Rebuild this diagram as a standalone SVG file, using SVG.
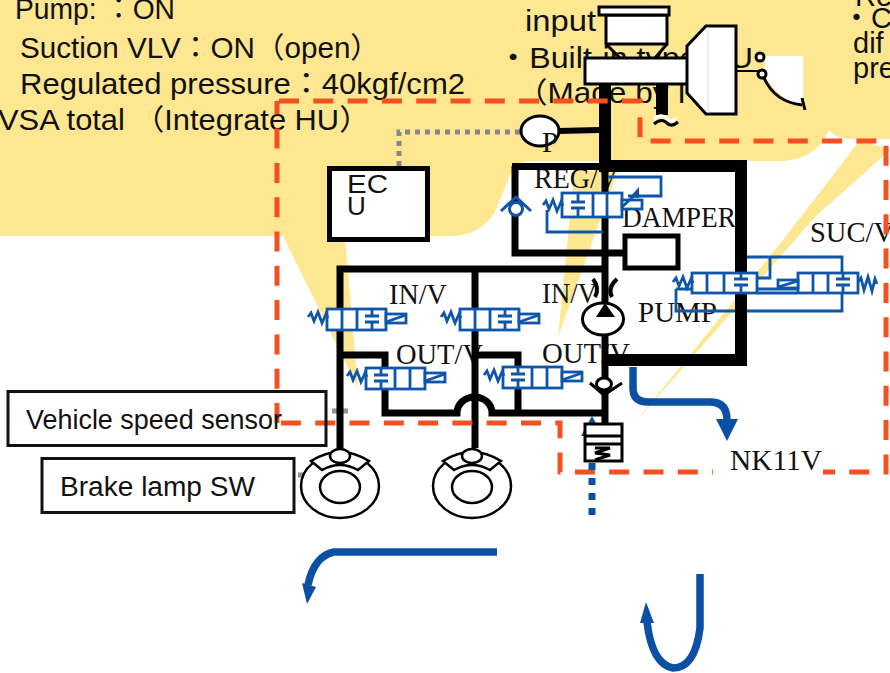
<svg xmlns="http://www.w3.org/2000/svg" width="890" height="673" viewBox="0 0 890 673">
<style>
.t{font-family:"Liberation Sans","Noto Sans CJK JP",sans-serif;font-size:29px;fill:#111}
.s{font-family:"Liberation Serif","Noto Sans CJK JP",serif;font-size:29px;fill:#111}
.b{font-family:"Liberation Sans","Noto Sans CJK JP",sans-serif;font-size:27px;fill:#111}
.blk{fill:none;stroke:#000;stroke-linejoin:miter}
.wb{fill:#fff;stroke:#000;stroke-width:3}
.w2{fill:#fff;stroke:#000;stroke-width:2.500}
.bl{fill:none;stroke:#0f55a8;stroke-width:2.800}
.bf{fill:none;stroke:#0b50a4;stroke-width:7.500}
.ah{fill:#0b50a4}
.vb{fill:#fff;stroke:#0f55a8;stroke-width:2.800}
</style>
<defs>
<g id="spring"><path class="bl" d="M-19,8 L-16,4 L-13,12 L-9,3 L-5,14 L-1,5 L1,9"/></g>
<g id="block"><path class="bl" d="M-7,7 H7 M-7,13 H7 M0,0 V7 M0,13 V21"/></g>
<g id="coil"><rect class="vb" x="0" y="5" width="20" height="9"/><path class="bl" d="M0,13 L20,6"/></g>
<g id="valveR"><rect class="vb" x="0" y="0" width="59" height="21"/><path class="bl" d="M15,0 V21 M30,0 V21"/><use href="#block" x="45"/><use href="#spring"/><use href="#coil" x="59"/></g>
<g id="valveL"><rect class="vb" x="0" y="0" width="59" height="21"/><path class="bl" d="M29,0 V21 M44,0 V21"/><use href="#block" x="15"/><use href="#spring"/><use href="#coil" x="59"/></g>
<g id="wheel">
<ellipse class="w2" cx="0" cy="32" rx="39" ry="32"/><ellipse class="w2" cx="0" cy="33" rx="20" ry="16"/>
<path class="w2" d="M-29,7 L-18,16 Q0,6 18,16 L29,7 Q0,-11 -29,7Z"/>
<ellipse class="w2" cx="0" cy="2" rx="10" ry="7"/>
</g>
</defs>

<g id="background">
<path fill="#ffe792" d="M0,0 H890 V139 H847 Q833,136 829,130 Q815,161 780,161 L530,161 Q514,162 508,180 L495,212 Q480,236 450,236 L345,236 L358,388 L283,236 L0,236Z"/>
<path fill="#ffe792" d="M575,165 L620,165 L558,337Z"/>
<path fill="#ffe792" d="M860,140 L890,150 L815,217 L633,425 L783,240Z"/>
<path fill="#fff" d="M765,56 H803 V106 Q778,100 765,75Z"/>
</g>

<g id="labels">
<text class="t" x="15" y="19" textLength="160" lengthAdjust="spacingAndGlyphs">Pump: &#xFF1A;ON</text>
<text class="t" x="20" y="58" textLength="360" lengthAdjust="spacingAndGlyphs">Suction VLV&#xFF1A;ON&#xFF08;open&#xFF09;</text>
<text class="t" x="20" y="94" textLength="445" lengthAdjust="spacingAndGlyphs">Regulated pressure&#xFF1A;40kgf/cm2</text>
<text class="t" x="-2" y="130" textLength="372" lengthAdjust="spacingAndGlyphs">VSA total &#xFF08;Integrate HU&#xFF09;</text>
<text class="t" x="525" y="31" textLength="71" lengthAdjust="spacingAndGlyphs">input</text>
<text class="t" x="497" y="68" textLength="256" lengthAdjust="spacingAndGlyphs">&#x30FB;Built-in type HU</text>
<text class="t" x="516" y="103" textLength="170" lengthAdjust="spacingAndGlyphs">&#xFF08;Made by I</text>
<text class="t" x="855" y="6">Re</text>
<text class="t" x="842" y="28">&#x30FB;C</text>
<text class="t" x="853" y="53">dif</text>
<text class="t" x="853" y="78">pre</text>
<text class="s" x="534" y="188" textLength="84" lengthAdjust="spacingAndGlyphs">REG/V</text>
<text class="s" x="622" y="227" textLength="114" lengthAdjust="spacingAndGlyphs">DAMPER</text>
<text class="s" x="810" y="242" textLength="84" lengthAdjust="spacingAndGlyphs">SUC/V</text>
<text class="s" x="389" y="304" textLength="58" lengthAdjust="spacingAndGlyphs">IN/V</text>
<text class="s" x="542" y="303" textLength="55" lengthAdjust="spacingAndGlyphs">IN/V</text>
<text class="s" x="396" y="364" textLength="87" lengthAdjust="spacingAndGlyphs">OUT/V</text>
<text class="s" x="542" y="363" textLength="88" lengthAdjust="spacingAndGlyphs">OUT/V</text>
<text class="s" x="638" y="322" textLength="79" lengthAdjust="spacingAndGlyphs">PUMP</text>
</g>

<g id="connectors">
<path fill="none" stroke="#808890" stroke-width="5" stroke-dasharray="5 5" d="M399,166 V132 H520"/>
<path fill="none" stroke="#8f9296" stroke-width="5" d="M332,411 H348 M298,475 H304"/>
<path class="blk" stroke-width="12" d="M605,84 V166"/>
<path class="blk" stroke-width="12" d="M662,84 V115"/>
<path class="blk" stroke-width="6" d="M558,131 L600,130"/>
<path class="blk" stroke-width="12" d="M599,166 H741 V360 H606"/>
<path class="blk" stroke-width="7" d="M600,166.500 H512 M515,166 V253 H625 M605,166 V424 M340,448 V269 H605 M475,448 V269 M340,355 H385 V413 H457 A17.500,16 0 0 1 492,413 H605 M475,355 H518 V413"/>
<path class="blk" stroke-width="4" d="M593,279 Q600,288 595,297 M617,279 Q607,288 612,297"/>
<path fill="none" stroke="#f4511e" stroke-width="5" stroke-dasharray="20 14.300" d="M279,101 H640 V141 H886 V472 H560 V423 H280 M277,423 V101"/>
<path fill="none" stroke="#0b50a4" stroke-width="7" stroke-dasharray="7 8" d="M592,463 V521"/>
<path class="bf" d="M633,367 V388 Q633,402 648,402 H710 Q727,402 727,420"/>
<path class="ah" d="M716,419 H738 L727,441Z"/>
<path class="bf" d="M497,552 H334 Q314,556 308,585"/>
<path class="ah" d="M302,583 L316,587 L307,604Z"/>
<path class="bf" d="M700,574 V628 Q695,668 673,668 Q652,664 647,622"/>
<path class="ah" d="M640,623 H654 L646,602Z"/>
<path class="ah" d="M592,416 L581,436 H603Z"/>
<path class="bl" d="M608,177 H661 V196 H628 M547,210 V232 H603"/>
<path class="bl" d="M747,257 H842 V273 M770,257 V278 H757 M757,289 H797 M757,293 H797 M676,289 H692 M676,289 V311 H735 M747,311 H842 V293"/>
</g>

<g id="nk11v"><rect x="713" y="445" width="110" height="32" fill="#fff"/><text class="s" x="730" y="470" textLength="92" lengthAdjust="spacingAndGlyphs">NK11V</text></g>

<g id="reservoir">
<rect class="wb" x="606" y="15" width="61" height="29"/>
<path class="blk" stroke-width="3" d="M606,44 L620,58 M667,44 L655,58"/>
<rect class="wb" x="599" y="7" width="70" height="8"/>
</g>
<g id="master-cylinder"><rect class="wb" x="585" y="58" width="103" height="26"/></g>
<g id="booster">
<path class="wb" d="M687,46 L706,26 H736 V114 H706 L687,93Z"/>
<path stroke="#ddd" d="M708,27 V113"/>
<path class="blk" stroke-width="2" d="M736,71 H762"/>
<circle class="wb" cx="760" cy="57" r="4"/><circle class="wb" cx="762" cy="74" r="4"/>
<path class="blk" stroke-width="3" d="M764,78 Q775,102 802,105 M802,98 L805,110"/>
</g>
<g id="squiggle">
<path fill="none" stroke="#fff" stroke-width="3" d="M654,119 Q662,112 668,120 Q672,123 676,118"/>
<path class="blk" stroke-width="3" d="M654,124 Q662,117 668,124 Q672,127 678,122"/>
</g>
<g id="pressure-sensor"><ellipse class="wb" cx="540" cy="131" rx="19" ry="15"/><text class="s" x="542" y="152">P</text></g>
<g id="ecu"><rect x="329.500" y="168.500" width="98" height="71" fill="#fff" stroke="#000" stroke-width="5"/>
<text x="347" y="193" font-family="Liberation Sans,sans-serif" font-size="26" fill="#111" textLength="41" lengthAdjust="spacingAndGlyphs">EC</text>
<text x="347" y="215" font-family="Liberation Sans,sans-serif" font-size="26" fill="#111">U</text></g>
<g id="damper"><rect x="625" y="236" width="53" height="32" fill="#fff" stroke="#000" stroke-width="5"/></g>
<g id="pump"><ellipse class="wb" cx="603" cy="319" rx="20.500" ry="16"/><path d="M596,317 H615 L605,303Z"/></g>
<g id="check-valve"><ellipse class="wb" cx="604" cy="384" rx="7.500" ry="6"/><path class="blk" stroke-width="3" d="M590,383 L604,395 L622,383"/></g>
<g id="reg-check"><circle cx="516" cy="209" r="6.500" fill="#fff" stroke="#0f55a8" stroke-width="3"/><path fill="none" stroke="#0f55a8" stroke-width="3" d="M501,211 L516,197 L531,211"/></g>
<g id="accumulator">
<rect class="wb" x="585" y="424" width="37" height="37"/>
<path class="blk" stroke-width="3" d="M585,436 H622 M585,444 H622 M595,448 H610 L595,453 L610,455 L595,460"/>
</g>

<g id="reg-v">
<rect class="vb" x="562" y="193" width="60" height="24"/>
<path class="bl" d="M593,193 V217 M607,193 V217 M571,202 H585 M571,208 H585 M578,193 V202 M578,208 V217"/>
<use href="#spring" x="562" y="197"/>
<rect class="vb" x="622" y="200" width="20" height="9"/>
<path class="bl" d="M622,207 L637,193"/>
<path class="ah" d="M639,187 V198 L630,197Z"/>
</g>
<use id="in-v-1" href="#valveR" x="327" y="309"/>
<use id="in-v-2" href="#valveR" x="460" y="309"/>
<use id="out-v-1" href="#valveL" x="366" y="368"/>
<use id="out-v-2" href="#valveL" x="503" y="367"/>
<g id="suc-v-1">
<rect class="vb" x="692" y="273" width="65" height="20"/>
<path class="bl" d="M707,273 V293 M724,273 V293"/><use href="#block" x="741" y="272"/><use href="#spring" x="692" y="274"/>
</g>
<g id="suc-v-2">
<rect class="vb" x="798" y="273" width="60" height="20"/>
<path class="bl" d="M813,273 V293 M828,273 V293"/><use href="#block" x="843" y="272"/>
<path class="bl" d="M858,282 L861,278 L864,290 L868,277 L872,291 L875,279 L877,284"/>
<rect class="vb" x="778" y="280" width="20" height="8"/><path class="bl" d="M778,287 L798,281"/>
</g>

<use id="wheel-1" href="#wheel" x="340" y="454"/>
<use id="wheel-2" href="#wheel" x="472" y="454"/>

<g id="vehicle-speed-sensor"><rect x="8" y="391.500" width="318" height="54" fill="none" stroke="#111" stroke-width="3"/><text class="b" x="26" y="429" textLength="256" lengthAdjust="spacingAndGlyphs">Vehicle speed sensor</text></g>
<g id="brake-lamp"><rect x="42" y="458.500" width="252" height="54" fill="none" stroke="#111" stroke-width="3"/><text class="b" x="60" y="496" textLength="195" lengthAdjust="spacingAndGlyphs">Brake lamp SW</text></g>
</svg>
